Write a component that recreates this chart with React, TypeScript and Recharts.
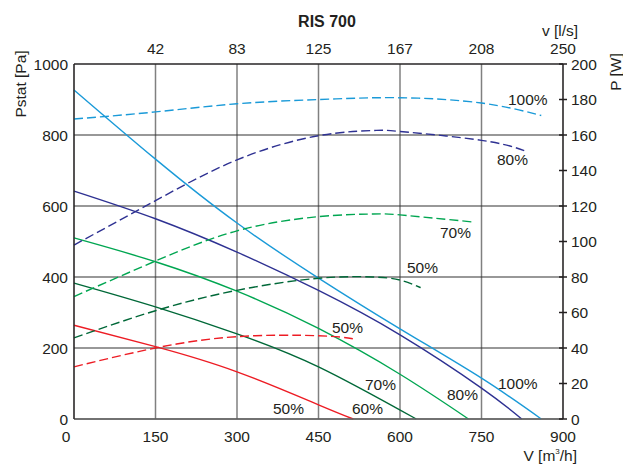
import React from "react";
import { ComposedChart, Line, XAxis, YAxis, CartesianGrid } from "recharts";

// flow [m3/h] ticks and l/s labels
const flowTicks = [0, 150, 300, 450, 600, 750, 900];
const topTicks = [150, 300, 450, 600, 750, 900];
const litreLabels = ["42", "83", "125", "167", "208", "250"];
const pressureTicks = [0, 200, 400, 600, 800, 1000];
const powerTicks = [0, 20, 40, 60, 80, 100, 120, 140, 160, 180, 200];

// static pressure curves (solid)
const p100Flow = [0, 150, 300, 450, 600, 750, 860];
const p100 = [927, 732, 552, 397, 254, 115, 0];
const p80Flow = [0, 150, 300, 450, 600, 750, 824];
const p80 = [642, 564, 470, 362, 237, 87, 0];
const p70Flow = [0, 150, 300, 450, 600, 726];
const p70 = [510, 443, 360, 255, 126, 0];
const p60Flow = [0, 150, 300, 450, 630];
const p60 = [383, 316, 240, 147, 0];
const p50Flow = [0, 150, 300, 450, 514];
const p50 = [264, 204, 133, 40, 0];

// power curves (dashed)
const w100Flow = [0, 150, 300, 450, 600, 750, 860];
const w100 = [169, 173, 177.6, 180, 181, 178, 171];
const w80Flow = [0, 150, 300, 450, 550, 600, 750, 830];
const w80 = [98, 123, 146, 159.6, 162.5, 162, 157, 151];
const w70Flow = [0, 150, 300, 450, 550, 600, 734];
const w70 = [69, 89, 106, 114, 115.5, 115, 111];
const w60Flow = [0, 150, 300, 450, 550, 600, 638];
const w60 = [45.7, 61, 72.5, 79.3, 80, 78.3, 74];
const w50Flow = [0, 150, 300, 450, 514];
const w50 = [29.4, 40, 46.4, 46.9, 45.2];

const zip = (vs: number[], ys: number[], key: string) =>
  vs.map((v, i) => ({ v, [key]: ys[i] }));

const LIGHT_BLUE = "#1a9ad8";
const DARK_BLUE = "#2e3192";
const GREEN = "#00a651";
const DARK_GREEN = "#006838";
const RED = "#ed1c24";

const FONT = "'Liberation Sans', Arial, Helvetica, sans-serif";
const TEXT = "#231f20";
const FS = 15.5;

const solid = [
  { id: "p100", data: zip(p100Flow, p100, "p"), color: LIGHT_BLUE },
  { id: "p80", data: zip(p80Flow, p80, "p"), color: DARK_BLUE },
  { id: "p70", data: zip(p70Flow, p70, "p"), color: GREEN },
  { id: "p60", data: zip(p60Flow, p60, "p"), color: DARK_GREEN },
  { id: "p50", data: zip(p50Flow, p50, "p"), color: RED },
];

const dashed = [
  { id: "w100", data: zip(w100Flow, w100, "w"), color: LIGHT_BLUE },
  { id: "w80", data: zip(w80Flow, w80, "w"), color: DARK_BLUE },
  { id: "w70", data: zip(w70Flow, w70, "w"), color: GREEN },
  { id: "w60", data: zip(w60Flow, w60, "w"), color: DARK_GREEN },
  { id: "w50", data: zip(w50Flow, w50, "w"), color: RED },
];

const curveLabels = [
  { x: 508, y: 104.5, t: "100%" },
  { x: 497, y: 164.5, t: "80%" },
  { x: 440, y: 237.5, t: "70%" },
  { x: 407, y: 272.5, t: "50%" },
  { x: 332, y: 332.5, t: "50%" },
  { x: 498, y: 388.5, t: "100%" },
  { x: 447, y: 399.5, t: "80%" },
  { x: 365, y: 389.5, t: "70%" },
  { x: 352, y: 413.5, t: "60%" },
  { x: 273, y: 413.5, t: "50%" },
];

const BottomTick = (props: any) => {
  const { x, y, payload } = props;
  const dx = payload.value === 0 ? -8 : 0;
  return (
    <text x={x + dx} y={y} dy="0.71em" textAnchor="middle" fontSize={FS} fill={TEXT} fontFamily={FONT}>
      {payload.value}
    </text>
  );
};

const TopTick = (props: any) => {
  const { x, y, payload } = props;
  const label = litreLabels[topTicks.indexOf(payload.value)] ?? "";
  return (
    <text x={x} y={y} textAnchor="middle" fontSize={FS} fill={TEXT} fontFamily={FONT}>
      {label}
    </text>
  );
};

const RightTick = (props: any) => {
  const { x, y, payload } = props;
  return (
    <g>
      <line x1={x - 12} x2={x - 4} y1={y} y2={y} stroke="#231f20" strokeWidth={1.5} />
      <text x={x} y={y} dy="0.355em" textAnchor="start" fontSize={FS} fill={TEXT} fontFamily={FONT}>
        {payload.value}
      </text>
    </g>
  );
};

export default function App() {
  return (
    <div style={{ position: "absolute", left: 0, top: 0, width: 623, height: 464, background: "#fff" }}>
      <ComposedChart
        width={623}
        height={464}
        margin={{ top: 34, right: 20, bottom: 15, left: 14 }}
      >
        <CartesianGrid
          xAxisId={0}
          yAxisId="p"
          horizontal={false}
          stroke="#808080"
          strokeWidth={1.5}
        />
        <CartesianGrid
          xAxisId={0}
          yAxisId="p"
          vertical={false}
          stroke="#333"
          strokeWidth={1.1}
        />
        <XAxis
          xAxisId={0}
          dataKey="v"
          type="number"
          domain={[0, 900]}
          ticks={flowTicks}
          height={30}
          tickLine={false}
          tickSize={4}
          tickMargin={8}
          axisLine={{ stroke: "#666", strokeWidth: 1.5 }}
          tick={<BottomTick />}
        />
        <XAxis
          xAxisId="top"
          orientation="top"
          dataKey="v"
          type="number"
          domain={[0, 900]}
          ticks={topTicks}
          height={30}
          tickLine={false}
          tickSize={4}
          tickMargin={6}
          axisLine={{ stroke: "#231f20", strokeWidth: 1.2 }}
          tick={<TopTick />}
        />
        <YAxis
          yAxisId="p"
          type="number"
          domain={[0, 1000]}
          ticks={pressureTicks}
          width={60}
          tickLine={false}
          tickSize={4}
          tickMargin={2}
          axisLine={{ stroke: "#231f20", strokeWidth: 1.2 }}
          tick={{ fontSize: FS, fill: TEXT, fontFamily: FONT }}
        />
        <YAxis
          yAxisId="w"
          orientation="right"
          type="number"
          domain={[0, 200]}
          ticks={powerTicks}
          width={40}
          tickLine={false}
          tickSize={4}
          tickMargin={4}
          axisLine={{ stroke: "#231f20", strokeWidth: 1.2 }}
          tick={<RightTick />}
        />
        {solid.map((s) => (
          <Line
            key={s.id}
            data={s.data}
            xAxisId={0}
            yAxisId="p"
            dataKey="p"
            type="natural"
            stroke={s.color}
            strokeWidth={1.4}
            dot={false}
            activeDot={false}
            isAnimationActive={false}
          />
        ))}
        {dashed.map((s) => (
          <Line
            key={s.id}
            data={s.data}
            xAxisId="top"
            yAxisId="w"
            dataKey="w"
            type="natural"
            stroke={s.color}
            strokeWidth={1.4}
            strokeDasharray="9 4"
            dot={false}
            activeDot={false}
            isAnimationActive={false}
          />
        ))}
      </ComposedChart>
      <svg
        width={623}
        height={464}
        style={{ position: "absolute", left: 0, top: 0, pointerEvents: "none" }}
        fontFamily={FONT}
        fill={TEXT}
      >
        <text x={327} y={26.5} textAnchor="middle" fontSize={16} fontWeight="bold">
          RIS 700
        </text>
        <text x={542} y={36} fontSize={FS}>
          v [l/s]
        </text>
        <text x={577} y={461} textAnchor="end" fontSize={FS}>
          V [m
          <tspan fontSize={8} dy={-7}>3</tspan>
          <tspan dy={7}>/h]</tspan>
        </text>
        <text
          x={20}
          y={84}
          textAnchor="middle"
          dominantBaseline="central"
          fontSize={FS}
          transform="rotate(-90 20 84)"
        >
          Pstat [Pa]
        </text>
        <text
          x={615}
          y={72}
          textAnchor="middle"
          dominantBaseline="central"
          fontSize={FS}
          transform="rotate(-90 615 72)"
        >
          P [W]
        </text>
        {curveLabels.map((l, i) => (
          <text key={i} x={l.x} y={l.y} fontSize={FS}>
            {l.t}
          </text>
        ))}
      </svg>
    </div>
  );
}
